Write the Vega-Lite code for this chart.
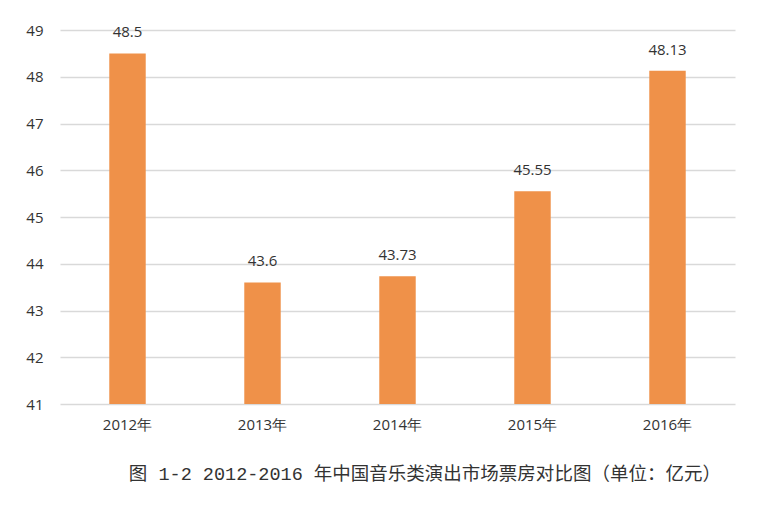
{
  "$schema": "https://vega.github.io/schema/vega-lite/v6.json",
  "autosize": "none",
  "width": 675,
  "height": 374,
  "padding": {"left": 60, "top": 30, "right": 31, "bottom": 102},
  "background": "white",
  "config": {"view": {"stroke": null}},
  "data": {"values": [
    {"year": "2012年", "value": 48.5, "label": "48.5"},
    {"year": "2013年", "value": 43.6, "label": "43.6"},
    {"year": "2014年", "value": 43.73, "label": "43.73"},
    {"year": "2015年", "value": 45.55, "label": "45.55"},
    {"year": "2016年", "value": 48.13, "label": "48.13"}
  ]},
  "title": {
    "text": "图 1-2 2012-2016 年中国音乐类演出市场票房对比图（单位：亿元）",
    "orient": "bottom",
    "anchor": "start",
    "dx": 103,
    "offset": 33,
    "font": "Liberation Mono, Noto Sans CJK SC",
    "fontSize": 18.5,
    "fontWeight": "normal",
    "color": "#333333"
  },
  "encoding": {
    "x": {
      "field": "year", "type": "nominal", "sort": null,
      "scale": {"paddingInner": 0.73, "paddingOuter": 0.365},
      "axis": {"title": null, "labelAngle": 0, "ticks": false, "domain": false, "grid": false,
               "labelFont": "Open Sans", "labelFontSize": 15, "labelColor": "#333333", "labelPadding": 13}
    },
    "y": {
      "field": "value", "type": "quantitative",
      "scale": {"domain": [41, 49], "zero": false, "nice": false},
      "axis": {"title": null, "values": [41,42,43,44,45,46,47,48,49], "labelOverlap": false, "ticks": false, "domain": false,
               "gridColor": "#d9d9d9", "gridWidth": 1.5,
               "labelFont": "Open Sans", "labelFontSize": 15, "labelColor": "#333333", "labelPadding": 17}
    }
  },
  "layer": [
    {"mark": {"type": "bar", "color": "#EF9149"}, "encoding": {"y2": {"datum": 41}}},
    {"mark": {"type": "text", "baseline": "bottom", "dy": -13, "font": "Open Sans", "fontSize": 15, "color": "#333333"},
     "encoding": {"text": {"field": "label"}}}
  ]
}
